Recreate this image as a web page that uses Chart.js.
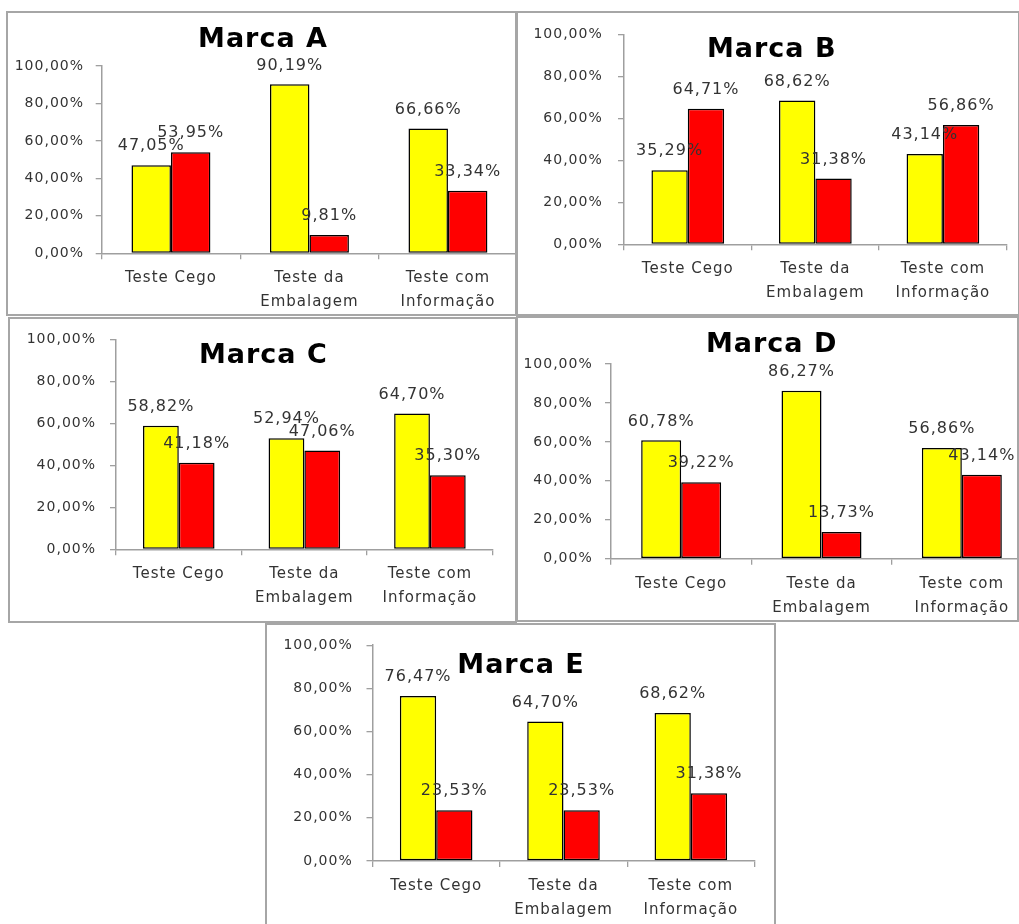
<!DOCTYPE html>
<html><head><meta charset="utf-8">
<script src="https://cdn.jsdelivr.net/npm/chart.js@4.4.1/dist/chart.umd.min.js"></script>
<style>
html,body{margin:0;padding:0;background:#fff;width:1019px;height:924px;overflow:hidden;position:relative;}
.wrap{position:absolute;overflow:hidden;}
.frame{position:absolute;border:2px solid #a6a6a6;box-sizing:border-box;pointer-events:none;}
.title{position:absolute;font:bold 27px "DejaVu Sans";letter-spacing:1px;color:#000;white-space:nowrap;line-height:1;transform:translate(-50%,-50%);}
</style></head><body>
<script>
// ---- data ----
const categories = [['Teste Cego'], ['Teste da', 'Embalagem'], ['Teste com', 'Informação']];
const yTickValues = [0, 20, 40, 60, 80, 100];
const yTickLabels = ['0,00%', '20,00%', '40,00%', '60,00%', '80,00%', '100,00%'];

const marcaA_amarelo = [47.05, 90.19, 66.66];
const marcaA_vermelho = [53.95, 9.81, 33.34];
const marcaB_amarelo = [35.29, 68.62, 43.14];
const marcaB_vermelho = [64.71, 31.38, 56.86];
const marcaC_amarelo = [58.82, 52.94, 64.70];
const marcaC_vermelho = [41.18, 47.06, 35.30];
const marcaD_amarelo = [60.78, 86.27, 56.86];
const marcaD_vermelho = [39.22, 13.73, 43.14];
const marcaE_amarelo = [76.47, 64.70, 68.62];
const marcaE_vermelho = [23.53, 23.53, 31.38];

// ---- layout (positions only) ----
const panels = [
  {title: 'Marca A', yellow: marcaA_amarelo, red: marcaA_vermelho,
   box: [6, 11, 511, 305], axisX: 101.7, yTop: 66, yBot: 253.3, plotRight: 517.2, titleXY: [263, 37], yPad: 11.7},
  {title: 'Marca B', yellow: marcaB_amarelo, red: marcaB_vermelho,
   box: [516, 11, 504, 305], axisX: 624, yTop: 31.7, yBot: 244.3, plotRight: 1006.7, titleXY: [771.7, 46.7], yPad: 15.3},
  {title: 'Marca C', yellow: marcaC_amarelo, red: marcaC_vermelho,
   box: [8, 317, 509, 306], axisX: 116, yTop: 337.3, yBot: 549.3, plotRight: 492.7, titleXY: [263.3, 353.3], yPad: 14},
  {title: 'Marca D', yellow: marcaD_amarelo, red: marcaD_vermelho,
   box: [516, 316, 503, 306], axisX: 611, yTop: 364, yBot: 558.7, plotRight: 1032, titleXY: [771.7, 341.7], yPad: 12.3},
  {title: 'Marca E', yellow: marcaE_amarelo, red: marcaE_vermelho,
   box: [265, 623, 511, 310], axisX: 372.5, yTop: 645, yBot: 861, plotRight: 754.5, titleXY: [521, 662.7], yPad: 13.8}
];

const fmt = v => v.toFixed(2).replace('.', ',') + '%';
const textColor = '#333';
const axisColor = '#9f9f9f';

const spacingPlugin = {
  id: 'spacing',
  beforeDraw(chart) { chart.ctx.letterSpacing = '1px'; }
};
const valueLabels = {
  id: 'valueLabels',
  afterDatasetsDraw(chart) {
    const ctx = chart.ctx;
    ctx.save();
    ctx.letterSpacing = '1px';
    ctx.font = '16px "DejaVu Sans"';
    ctx.fillStyle = textColor;
    ctx.textAlign = 'center';
    ctx.textBaseline = 'middle';
    chart.data.datasets.forEach((ds, i) => {
      chart.getDatasetMeta(i).data.forEach((bar, j) => {
        ctx.fillText(fmt(ds.data[j]), bar.x, bar.y - 19);
      });
    });
    ctx.restore();
  }
};

panels.forEach(p => {
  const [L, T, W, H] = p.box;
  const wrap = document.createElement('div');
  wrap.className = 'wrap';
  Object.assign(wrap.style, {left: L + 'px', top: T + 'px', width: W + 'px', height: H + 'px'});
  const cw = Math.ceil(Math.max(p.plotRight - L, W));
  const canvas = document.createElement('canvas');
  canvas.width = cw; canvas.height = H;
  Object.assign(canvas.style, {position: 'absolute', left: '0px', top: '0px', width: cw + 'px', height: H + 'px'});
  wrap.appendChild(canvas);
  document.body.appendChild(wrap);

  const yAxisW = p.axisX - L;
  const xAxisH = H - (p.yBot - T);

  new Chart(canvas.getContext('2d'), {
    type: 'bar',
    data: {
      labels: categories,
      datasets: [
        {data: p.yellow, backgroundColor: '#FFFF00', borderColor: '#000', borderWidth: 1.5, borderSkipped: false},
        {data: p.red, backgroundColor: '#FF0000', borderColor: '#000', borderWidth: 1.5, borderSkipped: false}
      ]
    },
    options: {
      responsive: false,
      animation: false,
      events: [],
      devicePixelRatio: 1,
      datasets: {bar: {categoryPercentage: 0.57, barPercentage: 1}},
      layout: {padding: {left: 0, top: p.yTop - T, right: cw - (p.plotRight - L), bottom: 0}},
      plugins: {legend: {display: false}, tooltip: {enabled: false}, title: {display: false}},
      scales: {
        x: {
          grid: {display: true, offset: true, drawOnChartArea: false, drawTicks: true, tickLength: 6, color: axisColor, lineWidth: 1.3},
          border: {display: true, color: axisColor, width: 1.5},
          ticks: {color: textColor, font: {family: 'DejaVu Sans', size: 15, lineHeight: '24px'}, padding: 7,
                  autoSkip: false, maxRotation: 0, minRotation: 0},
          afterFit(s) { s.height = xAxisH; }
        },
        y: {
          min: 0, max: 100,
          grid: {display: true, drawOnChartArea: false, drawTicks: true, tickLength: 6, color: axisColor, lineWidth: 1.3},
          border: {display: true, color: axisColor, width: 1.5},
          afterBuildTicks(s) { s.ticks = yTickValues.map(v => ({value: v})); },
          ticks: {color: textColor, font: {family: 'DejaVu Sans', size: 14}, padding: p.yPad,
                  callback: (v, i) => yTickLabels[i]},
          afterFit(s) { s.width = yAxisW; }
        }
      }
    },
    plugins: [spacingPlugin, valueLabels]
  });

  const t = document.createElement('div');
  t.className = 'title';
  t.textContent = p.title;
  Object.assign(t.style, {left: p.titleXY[0] + 'px', top: p.titleXY[1] + 'px'});
  document.body.appendChild(t);
});

panels.forEach(p => {
  const [L, T, W, H] = p.box;
  const f = document.createElement('div');
  f.className = 'frame';
  Object.assign(f.style, {left: L + 'px', top: T + 'px', width: W + 'px', height: H + 'px'});
  document.body.appendChild(f);
});
</script>
</body></html>
